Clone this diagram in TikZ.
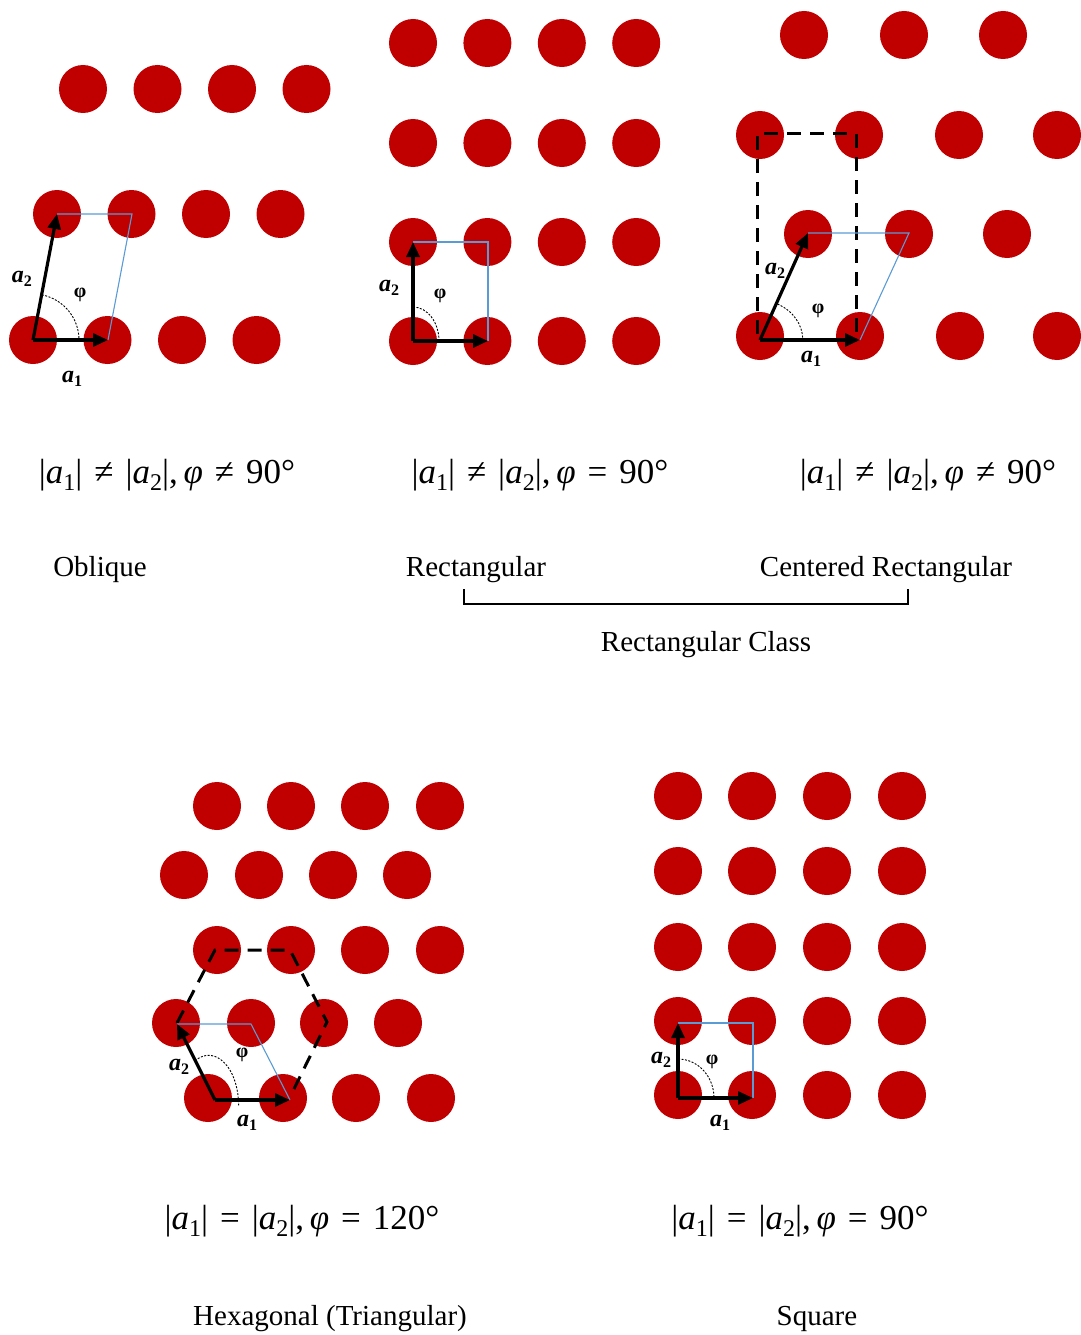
\documentclass[tikz,border=0pt]{standalone}
\usepackage{fontspec}
\setmainfont{Liberation Serif}
\usetikzlibrary{arrows.meta,calc}
\definecolor{dotred}{RGB}{192,0,0}
\definecolor{cellblue}{RGB}{91,155,213}
\newcommand{\fa}[1]{\textit{a}\raisebox{-7pt}{\fontsize{24}{24}\selectfont #1}}
\newcommand{\fsp}[1]{\hspace{12pt}#1\hspace{12pt}}
\newcommand{\fla}[1]{\textbf{\textit{a}}\raisebox{-4pt}{\fontsize{16}{16}\selectfont\bfseries #1}}
\tikzset{
  dot/.style={circle,fill=dotred,inner sep=0pt,minimum size=48pt},
  vec/.style={line width=3.2pt,-{Triangle[length=15pt,width=13pt]}},
  cell/.style={draw=cellblue,line width=1.1pt},
  hull/.style={line width=3pt,dash pattern=on 14pt off 9pt},
  ang/.style={dash pattern=on 2pt off 1.5pt,line width=0.9pt},
  vlab/.style={font=\fontsize{24}{26}\selectfont,inner sep=0pt},
  plab/.style={font=\fontsize{20}{24}\selectfont\bfseries,inner sep=0pt},
  formula/.style={font=\fontsize{35}{40}\selectfont,inner sep=0pt},
  lattname/.style={font=\fontsize{29}{34}\selectfont,inner sep=0pt}
}
\begin{document}
\begin{tikzpicture}[x=1pt,y=-1pt]
\useasboundingbox (0,0) rectangle (1080,1335);
% ---------- Oblique ----------
\foreach \y/\xo [count=\r] in {340/33,214/57,89/83}
  \foreach \c in {0,1,2,3}
    \node[dot] (ob-\r-\c) at (\xo+74.5*\c,\y) {};
\coordinate (obO) at (33,340);
\coordinate (obA) at (108,340);
\coordinate (obB) at (57,214);
\coordinate (obC) at (132,214);
\draw[cell] (obB) -- (obC) -- (obA);
\draw[vec] (obO) -- (obA);
\draw[vec] (obO) -- (obB);
\draw[ang] ($(obO)+(-79:46)$) arc[start angle=-79,end angle=0,radius=46];
\node[vlab] (oba2) at (22,279) {\fla{2}};
\node[vlab] (oba1) at (72,379) {\fla{1}};
\node[plab] (obphi) at (80,295) {φ};
% ---------- Rectangular ----------
\foreach \y [count=\r] in {341,242,143,43}
  \foreach \c in {0,1,2,3}
    \node[dot] (re-\r-\c) at (413+74.4*\c,\y) {};
\coordinate (reO) at (413,341);
\coordinate (reA) at (488,341);
\coordinate (reB) at (413,242);
\coordinate (reC) at (488,242);
\draw[cell] (reB) -- (reC) -- (reA);
\draw[vec] (reO) -- (reA);
\draw[vec] (reO) -- (reB);
\draw[ang] ($(reO)+(-90:34)$) arc[start angle=-90,end angle=0,x radius=26,y radius=34];
\node[vlab] (rea2) at (389,288) {\fla{2}};
\node[plab] (rephi) at (440,296) {φ};
% ---------- Centered rectangular ----------
\foreach \y/\xs [count=\r] in {336/{760,860,960,1057},234/{808,909,1007},135/{760,859,959,1057},35/{804,904,1003}}
  \foreach \x [count=\c] in \xs
    \node[dot] (cr-\r-\c) at (\x,\y) {};
\coordinate (crO) at (760,340);
\coordinate (crA) at (860,340);
\coordinate (crB) at (808,233);
\coordinate (crC) at (909,233);
\coordinate (crD1) at (757,334);
\coordinate (crD2) at (757,134);
\coordinate (crD3) at (856,134);
\coordinate (crD4) at (856,334);
\draw[hull] (crD1) -- (crD2) -- (crD3) -- (crD4);
\draw[cell] (crB) -- (crC) -- (crA);
\draw[vec] (crO) -- (crA);
\draw[vec] (crO) -- (crB);
\draw[ang] ($(crO)+(-64:40)$) arc[start angle=-64,end angle=0,x radius=45,y radius=40];
\node[vlab] (cra2) at (775,271) {\fla{2}};
\node[vlab] (cra1) at (811,359) {\fla{1}};
\node[plab] (crphi) at (818,311) {φ};
% ---------- formulas ----------
\node[formula] (f1) at (167,475) {|\fa{1}|\fsp{≠}|\fa{2}|,\,\textit{φ}\fsp{≠}90°};
\node[formula] (f2) at (540,475) {|\fa{1}|\fsp{≠}|\fa{2}|,\,\textit{φ}\fsp{=}90°};
\node[formula] (f3) at (928,475) {|\fa{1}|\fsp{≠}|\fa{2}|,\,\textit{φ}\fsp{≠}90°};
% ---------- names ----------
\node[lattname] (n1) at (100,570) {Oblique};
\node[lattname] (n2) at (476,570) {Rectangular};
\node[lattname] (n3) at (886,570) {Centered Rectangular};
\coordinate (brL) at (464,589);
\coordinate (brR) at (908,589);
\draw[line width=2pt] (brL) -- ++(0,15) -| (brR);
\node[lattname] (n4) at (706,645) {Rectangular Class};
% ---------- Hexagonal ----------
\foreach \y/\xs [count=\r] in {1098/{208,283,356,431},1023/{176,251,324,398},950/{217,291,365,440},875/{184,259,333,407},806/{217,291,365,440}}
  \foreach \x [count=\c] in \xs
    \node[dot] (hx-\r-\c) at (\x,\y) {};
\coordinate (hxO) at (215,1100);
\coordinate (hxA) at (290,1100);
\coordinate (hxB) at (177,1024);
\coordinate (hxC) at (251,1024);
\coordinate (hxH1) at (177,1023);
\coordinate (hxH2) at (215,950);
\coordinate (hxH3) at (290,950);
\coordinate (hxH4) at (327,1022);
\coordinate (hxH5) at (290,1097);
\draw[hull] (hxH1) -- (hxH2) -- (hxH3) -- (hxH4) -- (hxH5);
\draw[cell] (hxB) -- (hxC) -- (hxA);
\draw[vec] (hxO) -- (hxA);
\draw[vec] (hxO) -- (hxB);
\draw[ang] ($(hxO)+(-117:44)$) arc[start angle=-117,end angle=0,x radius=30,y radius=50];
\node[vlab] (hxa2) at (179,1067) {\fla{2}};
\node[vlab] (hxa1) at (247,1123) {\fla{1}};
\node[plab] (hxphi) at (242,1055) {φ};
% ---------- Square ----------
\foreach \y [count=\r] in {1095,1021,947,871,796}
  \foreach \x [count=\c] in {678,752,827,902}
    \node[dot] (sq-\r-\c) at (\x,\y) {};
\coordinate (sqO) at (678,1098);
\coordinate (sqA) at (753,1098);
\coordinate (sqB) at (678,1023);
\coordinate (sqC) at (753,1023);
\draw[cell] (sqB) -- (sqC) -- (sqA);
\draw[vec] (sqO) -- (sqA);
\draw[vec] (sqO) -- (sqB);
\draw[ang] ($(sqO)+(-90:39)$) arc[start angle=-90,end angle=0,x radius=36,y radius=39];
\node[vlab] (sqa2) at (661,1060) {\fla{2}};
\node[vlab] (sqa1) at (720,1123) {\fla{1}};
\node[plab] (sqphi) at (712,1062) {φ};
\node[formula] (f4) at (302,1221) {|\fa{1}|\fsp{=}|\fa{2}|,\,\textit{φ}\fsp{=}120°};
\node[formula] (f5) at (800,1221) {|\fa{1}|\fsp{=}|\fa{2}|,\,\textit{φ}\fsp{=}90°};
\node[lattname] (n5) at (330,1319) {Hexagonal (Triangular)};
\node[lattname] (n6) at (817,1319) {Square};
\end{tikzpicture}
\end{document}
